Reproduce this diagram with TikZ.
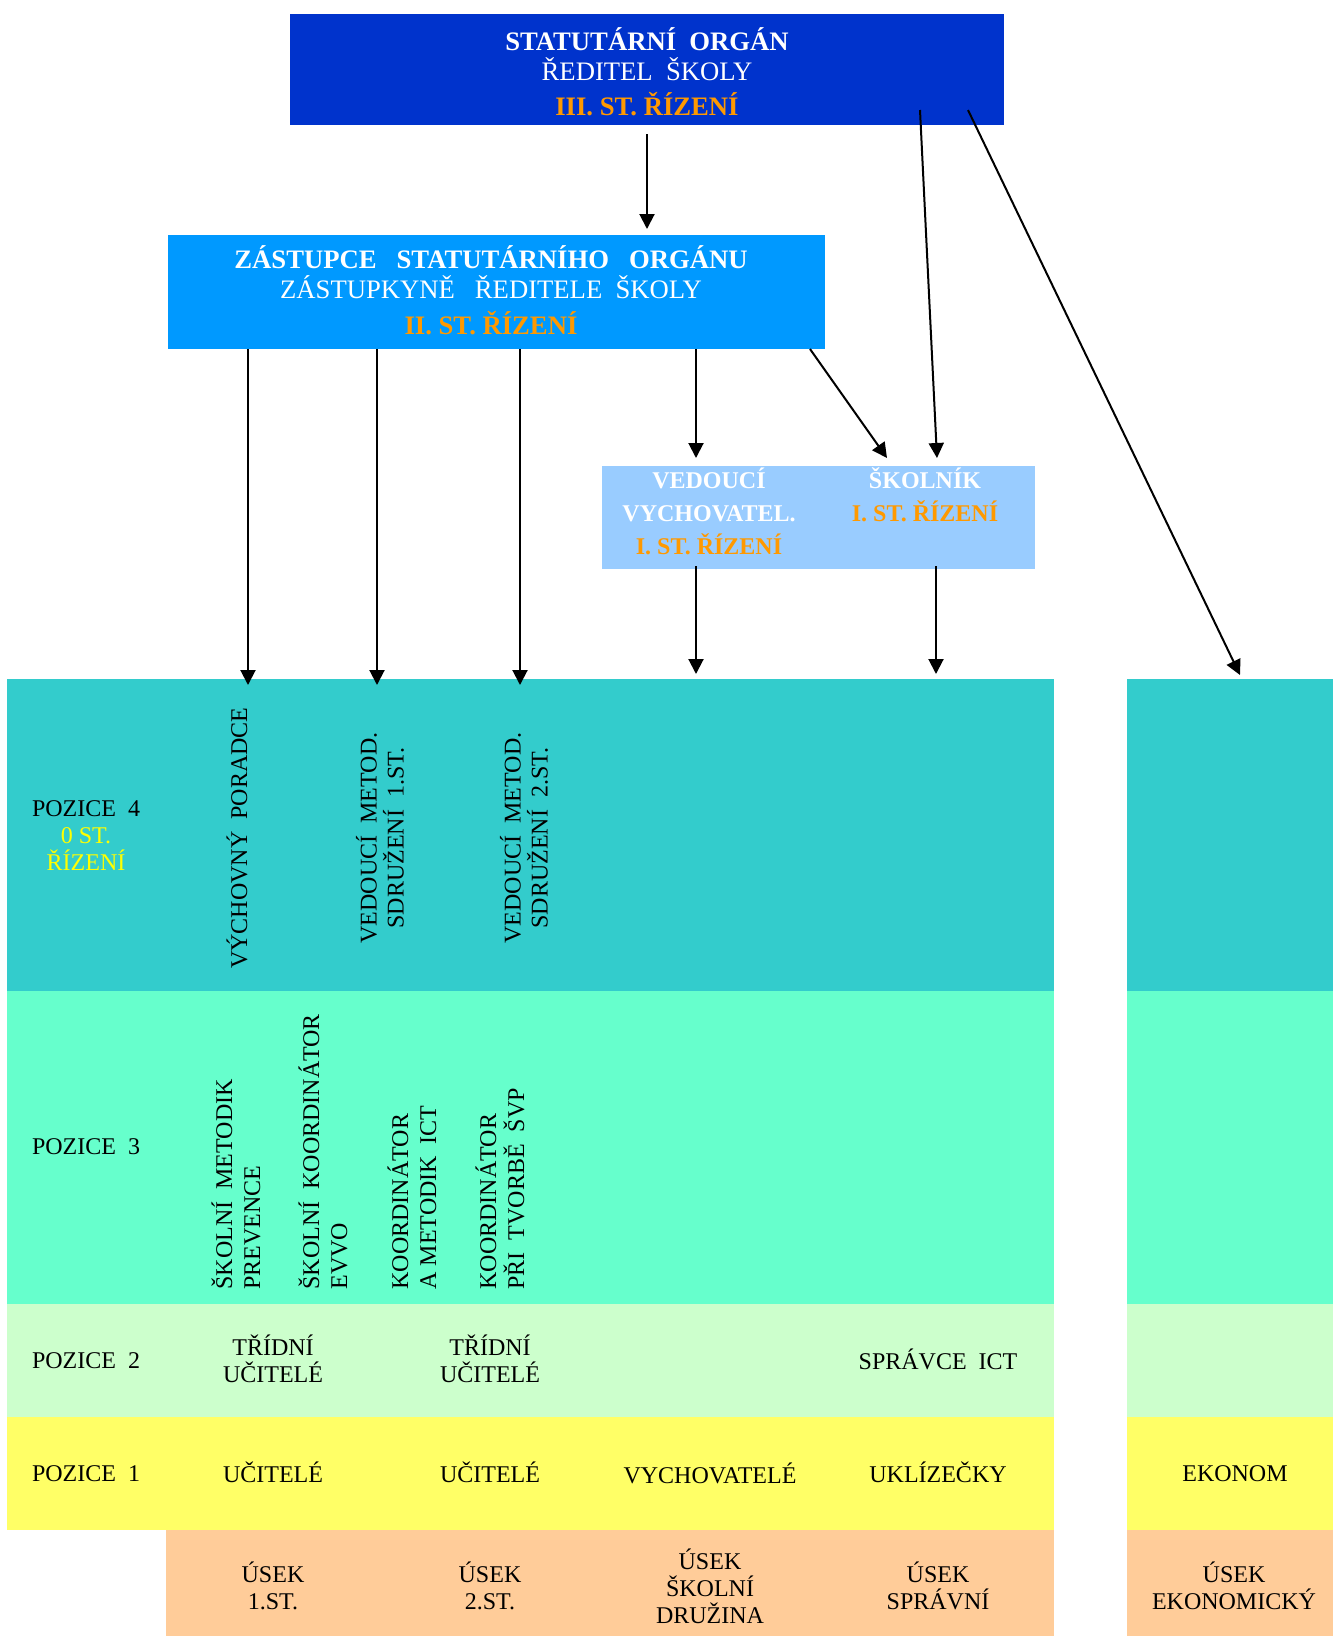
\documentclass[tikz,border=0pt]{standalone}
\usepackage{fontspec}
\setmainfont{Liberation Serif}
\usetikzlibrary{arrows.meta,fit,calc}

\definecolor{dirblue}{RGB}{0,51,204}
\definecolor{zastblue}{RGB}{0,153,255}
\definecolor{ledblue}{RGB}{153,204,255}
\definecolor{rizeni}{RGB}{255,153,0}
\definecolor{zerost}{RGB}{255,255,0}
\definecolor{pozfour}{RGB}{51,204,204}
\definecolor{pozthree}{RGB}{102,255,204}
\definecolor{poztwo}{RGB}{204,255,204}
\definecolor{pozone}{RGB}{255,255,102}
\definecolor{usekfill}{RGB}{255,204,153}

\tikzset{every picture/.style={line width=0.75pt}}
\tikzset{
  arr/.style={line width=1.5pt,-{Triangle[width=11.25pt,length=11.25pt]}},
  hbox/.style={inner sep=0pt,outer sep=0pt},
  hdr/.style={inner sep=0pt,align=center,text=white,font=\fontsize{20}{22.5}\selectfont},
  lbox/.style={inner sep=0pt,align=center,text=white,font=\bfseries\fontsize{18}{24.75}\selectfont},
  txt/.style={inner sep=0pt,align=center,font=\fontsize{18}{20.25}\selectfont},
  vtxt/.style={txt,rotate=90},
  vtxtl/.style={inner sep=0pt,align=left,rotate=90,anchor=west,font=\fontsize{18}{21}\selectfont}
}

\begin{document}
\begin{tikzpicture}[x=0.75pt,y=0.75pt,yscale=-1,xscale=1]
\useasboundingbox (0,0) rectangle (1333,1636);

%Shape: Rectangle [bands]
\fill[pozfour]  (7,679) rectangle (1054,991);
\fill[pozfour]  (1127,679) rectangle (1333,991);
\fill[pozthree] (7,991) rectangle (1054,1304);
\fill[pozthree] (1127,991) rectangle (1333,1304);
\fill[poztwo]   (7,1304) rectangle (1054,1417);
\fill[poztwo]   (1127,1304) rectangle (1333,1417);
\fill[pozone]   (7,1417) rectangle (1054,1530);
\fill[pozone]   (1127,1417) rectangle (1333,1530);
\fill[usekfill] (166,1530) rectangle (1054,1636);
\fill[usekfill] (1127,1530) rectangle (1333,1636);

%Shape: Rectangle [boxes]
\node[hbox,fill=dirblue,fit={(290,14) (1004,125)}] (reditel) {};
\node[hbox,fill=zastblue,fit={(168,235) (825,349)}] (zast) {};
\node[hbox,fill=ledblue,fit={(602,466) (1035,569)}] (vedouci) {};

% Text Node
\node[hdr] (reditel-t) at (647,72) {\textbf{STATUTÁRNÍ\ \ ORGÁN}\\ŘEDITEL\ \ ŠKOLY\\[3.75pt]\textcolor{rizeni}{\textbf{III. ST. ŘÍZENÍ}}};
\node[hdr] (zast-t) at (491,290) {\textbf{ZÁSTUPCE\ \ \ STATUTÁRNÍHO\ \ \ ORGÁNU}\\ZÁSTUPKYNĚ\ \ \ ŘEDITELE\ \ ŠKOLY\\[4.5pt]\textcolor{rizeni}{\textbf{II. ST. ŘÍZENÍ}}};
\node[lbox] (vv-t) at (709,511) {VEDOUCÍ\\VYCHOVATEL.\\\textcolor{rizeni}{I. ST. ŘÍZENÍ}};
\node[lbox] (sk-t) at (925,495) {ŠKOLNÍK\\\textcolor{rizeni}{I. ST. ŘÍZENÍ}};

% row labels
\node[txt] (poz4) at (86,836) {POZICE\ \ 4\\\textcolor{zerost}{0 ST.}\\\textcolor{zerost}{ŘÍZENÍ}};
\node[txt] (poz3) at (86,1147) {POZICE\ \ 3};
\node[txt] (poz2) at (86,1361) {POZICE\ \ 2};
\node[txt] (poz1) at (86,1474) {POZICE\ \ 1};

% pozice 4
\node[vtxt] (poradce) at (237,838) {VÝCHOVNÝ\ \ PORADCE};
\node[vtxt] (metod1) at (380,838) {VEDOUCÍ\ \ METOD.\\SDRUŽENÍ\ \ 1.ST.};
\node[vtxt] (metod2) at (524,838) {VEDOUCÍ\ \ METOD.\\SDRUŽENÍ\ \ 2.ST.};

% pozice 3
\node[vtxtl] (prevence) at (236,1290) {ŠKOLNÍ\ \ METODIK\\PREVENCE};
\node[vtxtl] (evvo) at (323,1290) {ŠKOLNÍ\ \ KOORDINÁTOR\\EVVO};
\node[vtxtl] (ict) at (412,1290) {KOORDINÁTOR\\A METODIK\ \ ICT};
\node[vtxtl] (svp) at (500,1290) {KOORDINÁTOR\\PŘI\ \ TVORBĚ\ \ ŠVP};

% pozice 2
\node[txt] (tridni1) at (273,1359) {TŘÍDNÍ\\UČITELÉ};
\node[txt] (tridni2) at (490,1359) {TŘÍDNÍ\\UČITELÉ};
\node[txt] (spravce) at (938,1359) {SPRÁVCE\ \ ICT};

% pozice 1
\node[txt] (ucitele1) at (273,1472) {UČITELÉ};
\node[txt] (ucitele2) at (490,1472) {UČITELÉ};
\node[txt] (vychovatele) at (710,1473) {VYCHOVATELÉ};
\node[txt] (uklizecky) at (938,1472) {UKLÍZEČKY};
\node[txt] (ekonom) at (1235,1474) {EKONOM};

% useky
\node[txt] (usek1) at (273,1586) {ÚSEK\\1.ST.};
\node[txt] (usek2) at (490,1586) {ÚSEK\\2.ST.};
\node[txt] (druzina) at (710,1586) {ÚSEK\\ŠKOLNÍ\\DRUŽINA};
\node[txt] (spravni) at (938,1586) {ÚSEK\\SPRÁVNÍ};
\node[txt] (usekek) at (1234,1586) {ÚSEK\\EKONOMICKÝ};

%Straight Lines [arrow tips]
\coordinate (a1) at (248,685);
\coordinate (a2) at (377,685);
\coordinate (a3) at (520,685);
\coordinate (avv) at (696,458);
\coordinate (adg) at (887,458);
\coordinate (ask) at (937,458);
\coordinate (bvv) at (696,674);
\coordinate (bsk) at (936,674);
\coordinate (aek) at (1240,675);

\draw[arr] ($(reditel.south)+(0,9)$) -- ($(reditel.south |- zast.north)+(0,-6)$);
\draw[arr] ($(reditel.south)+(273,-15)$) -- (ask);
\draw[arr] ($(reditel.south)+(321,-15)$) -- (aek);
\draw[arr] (zast.south -| a1) -- (a1);
\draw[arr] (zast.south -| a2) -- (a2);
\draw[arr] (zast.south -| a3) -- (a3);
\draw[arr] (zast.south -| avv) -- (avv);
\draw[arr] ($(zast.south east)+(-15,0)$) -- (adg);
\draw[arr] ($(vedouci.south -| bvv)+(0,-3)$) -- (bvv);
\draw[arr] ($(vedouci.south -| bsk)+(0,-3)$) -- (bsk);

\end{tikzpicture}
\end{document}
